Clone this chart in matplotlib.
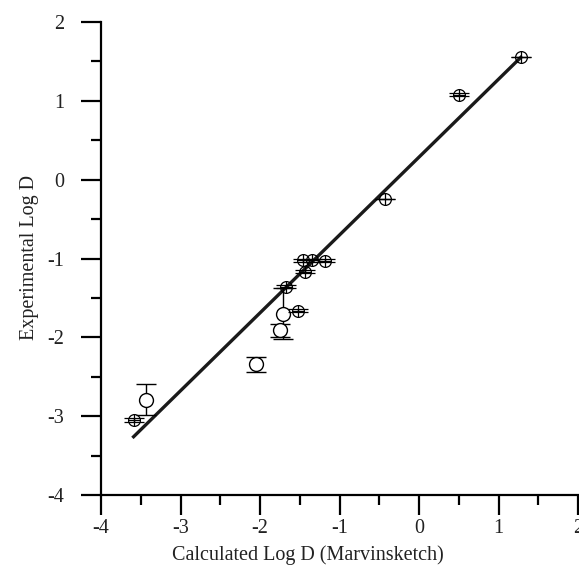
import numpy as np
import matplotlib
matplotlib.use("Agg")
import matplotlib.pyplot as plt
from matplotlib.ticker import MultipleLocator

plt.rcParams['font.family'] = ['Liberation Serif', 'DejaVu Serif']
plt.rcParams['font.size'] = 14.5
plt.rcParams['axes.unicode_minus'] = False

# crosshair points (small y error)
calc_a = [1.28, 0.50, -0.43, -1.46, -1.35, -1.18, -1.43, -1.67, -1.52, -3.58]
exp_a = [1.55, 1.08, -0.24, -1.02, -1.02, -1.03, -1.17, -1.36, -1.66, -3.05]
err_a = [0.0, 0.025, 0.0, 0.02, 0.02, 0.02, 0.02, 0.02, 0.02, 0.025]

# open circle points
calc_b = [-1.71, -1.75, -2.05, -3.44]
exp_b = [-1.70, -1.91, -2.34, -2.79]
err_b = [0.32, 0.08, 0.095, 0.20]

# regression line
line_x = [-3.59, 1.28]
slope, intercept = 0.988, 0.286

fig = plt.figure(figsize=(5.79, 5.66), dpi=100)
ax = fig.add_axes([101 / 579, 71 / 566, 477 / 579, 473 / 566])

lx = np.array(line_x)
ax.plot(lx, slope * lx + intercept, color='#1a1a1a', lw=2.4, zorder=2)

ax.errorbar(calc_b, exp_b, yerr=err_b, fmt='o', ms=10, mfc='white', mec='black',
            mew=1.0, ecolor='black', elinewidth=1.0, capsize=7.5, capthick=1.8, zorder=3)

ax.errorbar(calc_a, exp_a, yerr=err_a, fmt='o', ms=8.5, mfc='none', mec='black',
            mew=0.9, ecolor='black', elinewidth=1.0, capsize=7, capthick=1.8, zorder=4)
ax.plot(calc_a, exp_a, '+', ms=8.5, mew=0.9, color='black', zorder=4)

ax.set_xlim(-4, 2)
ax.set_ylim(-4, 2)
ax.xaxis.set_major_locator(MultipleLocator(1))
ax.xaxis.set_minor_locator(MultipleLocator(0.5))
ax.yaxis.set_major_locator(MultipleLocator(1))
ax.yaxis.set_minor_locator(MultipleLocator(0.5))

for s in ['top', 'right']:
    ax.spines[s].set_visible(False)
for s in ['left', 'bottom']:
    ax.spines[s].set_linewidth(1.6)

ax.tick_params(which='major', direction='out', length=14.4, width=1.6, pad=3)
ax.tick_params(axis='y', which='major', pad=12)
ax.tick_params(which='minor', direction='out', length=7.2, width=1.6)
ax.tick_params(labelcolor='#222222')

ax.set_xlabel('Calculated Log D (Marvinsketch)', color='#222222')
ax.set_ylabel('Experimental Log D', color='#222222')
ax.xaxis.set_label_coords(0.433, -0.106)
ax.yaxis.set_label_coords(-0.13, 0.503)

for sp in ax.spines.values():
    sp.set_clip_on(False)

fig.savefig('out.png', dpi=100)
